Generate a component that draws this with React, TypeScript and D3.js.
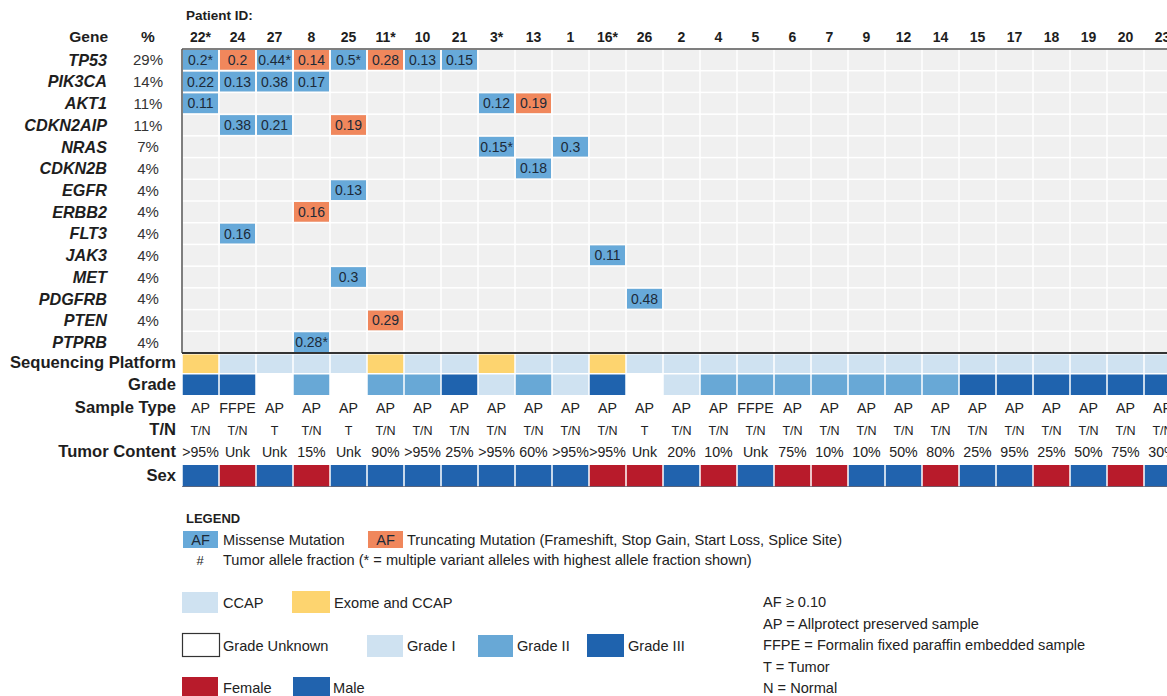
import React from "react";
import * as d3 from "d3";

const patients = ["22*","24","27","8","25","11*","10","21","3*","13","1","16*","26","2","4","5","6","7","9","12","14","15","17","18","19","20","23"];
const genes = ["TP53","PIK3CA","AKT1","CDKN2AIP","NRAS","CDKN2B","EGFR","ERBB2","FLT3","JAK3","MET","PDGFRB","PTEN","PTPRB"];
const genePct = ["29%","14%","11%","11%","7%","4%","4%","4%","4%","4%","4%","4%","4%","4%"];

// [gene, patient, allele fraction label, type] M = missense, T = truncating
const mutations: [string, string, string, string][] = [
  ["TP53","22*","0.2*","M"],["TP53","24","0.2","T"],["TP53","27","0.44*","M"],["TP53","8","0.14","T"],
  ["TP53","25","0.5*","M"],["TP53","11*","0.28","T"],["TP53","10","0.13","M"],["TP53","21","0.15","M"],
  ["PIK3CA","22*","0.22","M"],["PIK3CA","24","0.13","M"],["PIK3CA","27","0.38","M"],["PIK3CA","8","0.17","M"],
  ["AKT1","22*","0.11","M"],["AKT1","3*","0.12","M"],["AKT1","13","0.19","T"],
  ["CDKN2AIP","24","0.38","M"],["CDKN2AIP","27","0.21","M"],["CDKN2AIP","25","0.19","T"],
  ["NRAS","3*","0.15*","M"],["NRAS","1","0.3","M"],
  ["CDKN2B","13","0.18","M"],
  ["EGFR","25","0.13","M"],
  ["ERBB2","8","0.16","T"],
  ["FLT3","24","0.16","M"],
  ["JAK3","16*","0.11","M"],
  ["MET","25","0.3","M"],
  ["PDGFRB","26","0.48","M"],
  ["PTEN","11*","0.29","T"],
  ["PTPRB","8","0.28*","M"],
];

const platform = ["E","C","C","C","C","E","C","C","E","C","C","E","C","C","C","C","C","C","C","C","C","C","C","C","C","C","C"];
const grade = [3,3,0,2,0,2,2,3,1,2,1,3,0,1,2,2,2,2,2,2,2,3,3,3,3,3,3];
const sampleType = ["AP","FFPE","AP","AP","AP","AP","AP","AP","AP","AP","AP","AP","AP","AP","AP","FFPE","AP","AP","AP","AP","AP","AP","AP","AP","AP","AP","AP"];
const tumorNormal = ["T/N","T/N","T","T/N","T","T/N","T/N","T/N","T/N","T/N","T/N","T/N","T","T/N","T/N","T/N","T/N","T/N","T/N","T/N","T/N","T/N","T/N","T/N","T/N","T/N","T/N"];
const tumorContent = [">95%","Unk","Unk","15%","Unk","90%",">95%","25%",">95%","60%",">95%",">95%","Unk","20%","10%","Unk","75%","10%","10%","50%","80%","25%","95%","25%","50%","75%","30%"];
const sex = ["M","F","M","F","M","M","M","M","M","M","M","F","F","M","F","M","F","F","M","M","F","M","M","F","M","F","M"];
const annLabels = ["Sequencing Platform", "Grade", "Sample Type", "T/N", "Tumor Content", "Sex"];
const notes = ["AF \u2265 0.10", "AP = Allprotect preserved sample", "FFPE = Formalin fixed paraffin embedded sample", "T = Tumor", "N = Normal"];

const C = {
  missense: "#67a9d9",
  trunc: "#f0875c",
  empty: "#f0f0f0",
  ccap: "#cfe2f1",
  exome: "#fdd46f",
  g1: "#cfe2f1",
  g2: "#68a8d6",
  g3: "#1f63ae",
  female: "#b81b2b",
  male: "#2163ae",
  text: "#1e1e1e",
};
const FONT = "'Liberation Sans', Arial, Helvetica, sans-serif";

export default function App() {
  const W = 1167, H = 696;
  const x0 = 182, cw = 37;
  const x = d3.scaleBand<string>().domain(patients).range([x0, x0 + cw * patients.length]);
  const y = d3.scaleBand<string>().domain(genes).range([49, 353]);
  const bw = x.bandwidth();
  const bh = y.bandwidth();

  const gradeColor = (g: number) => (g === 1 ? C.g1 : g === 2 ? C.g2 : g === 3 ? C.g3 : "#ffffff");
  const LF = 14.6;
  const annY = [368, 390, 413, 435, 457, 481];

  return (
    <svg width={W} height={H} style={{ position: "absolute", left: 0, top: 0, background: "#fff" }} fontFamily={FONT}>
      <rect x={0} y={0} width={W} height={H} fill="#fff" />
      {/* header */}
      <text x={186} y={20} fontSize={13.5} fontWeight="bold" fill={C.text}>Patient ID:</text>
      <text x={108} y={42} fontSize={15.5} fontWeight="bold" textAnchor="end" fill={C.text}>Gene</text>
      <text x={148} y={42} fontSize={15.5} fontWeight="bold" textAnchor="middle" fill={C.text}>%</text>
      {patients.map((p) => (
        <text key={"pl" + p} x={x(p)! + bw / 2} y={42} fontSize={14} fontWeight="bold" textAnchor="middle" fill={C.text}>{p}</text>
      ))}

      {/* gene labels */}
      {genes.map((g, i) => (
        <g key={"gl" + g}>
          <text x={107} y={y(g)! + bh / 2 + 5.8} fontSize={16.2} fontWeight="bold" fontStyle="italic" textAnchor="end" fill={C.text}>{g}</text>
          <text x={148} y={y(g)! + bh / 2 + 5.5} fontSize={15} textAnchor="middle" fill="#333">{genePct[i]}</text>
        </g>
      ))}

      {/* empty grid */}
      {genes.map((g) =>
        patients.map((p) => (
          <rect key={"e" + g + p} x={x(p)! + 0.75} y={y(g)! + 0.75} width={bw - 1.5} height={bh - 1.5} fill={C.empty} />
        ))
      )}

      {/* mutations */}
      {mutations.map(([g, p, af, t]) => (
        <g key={"m" + g + p}>
          <rect x={x(p)! + 1} y={y(g)! + 1} width={bw - 2} height={bh - 2} fill={t === "M" ? C.missense : C.trunc} />
          <text x={x(p)! + bw / 2} y={y(g)! + bh / 2 + 5} fontSize={14} textAnchor="middle" fill="#1c2a38">{af}</text>
        </g>
      ))}

      {/* borders */}
      <line x1={x0} x2={W} y1={49} y2={49} stroke="#555" strokeWidth={1.5} />
      <line x1={x0} x2={x0} y1={49} y2={353} stroke="#555" strokeWidth={1.5} />
      <line x1={x0} x2={W} y1={353} y2={353} stroke="#333" strokeWidth={2} />

      {/* annotation labels */}
      {annLabels.map((l, i) => (
        <text key={"al" + l} x={176} y={annY[i]} fontSize={16.6} fontWeight="bold" textAnchor="end" fill={C.text}>{l}</text>
      ))}

      {/* sequencing platform */}
      {patients.map((p, i) => (
        <rect key={"sp" + p} x={x(p)! + 0.75} y={354.5} width={bw - 1.5} height={18.5} fill={platform[i] === "E" ? C.exome : C.ccap} />
      ))}
      {/* grade */}
      {patients.map((p, i) => (
        <rect key={"gr" + p} x={x(p)! + 0.75} y={374.5} width={bw - 1.5} height={20.5} fill={gradeColor(grade[i])} />
      ))}
      {/* text rows */}
      {patients.map((p, i) => (
        <g key={"tx" + p}>
          <text x={x(p)! + bw / 2} y={413} fontSize={14.2} textAnchor="middle" fill="#222">{sampleType[i]}</text>
          <text x={x(p)! + bw / 2} y={434.5} fontSize={12.5} textAnchor="middle" fill="#222">{tumorNormal[i]}</text>
          <text x={x(p)! + bw / 2} y={457} fontSize={14.2} textAnchor="middle" fill="#222">{tumorContent[i]}</text>
        </g>
      ))}
      {/* sex */}
      {patients.map((p, i) => (
        <rect key={"sx" + p} x={x(p)! + 0.75} y={465} width={bw - 1.5} height={21.5} fill={sex[i] === "F" ? C.female : C.male} />
      ))}
      <line x1={x0} x2={W} y1={486.5} y2={486.5} stroke="#334" strokeWidth={1} opacity={0.6} />

      {/* legend */}
      <text x={186} y={523} fontSize={13} fontWeight="bold" fill={C.text}>LEGEND</text>
      <rect x={183} y={531} width={35} height={17} fill={C.missense} />
      <text x={200.5} y={544.5} fontSize={LF} textAnchor="middle" fill="#1c2a38">AF</text>
      <text x={223} y={545} fontSize={LF} fill="#222">Missense Mutation</text>
      <rect x={368} y={531} width={35} height={17} fill={C.trunc} />
      <text x={385.5} y={544.5} fontSize={LF} textAnchor="middle" fill="#1c2a38">AF</text>
      <text x={407} y={545} fontSize={LF} fill="#222">Truncating Mutation (Frameshift, Stop Gain, Start Loss, Splice Site)</text>
      <text x={200} y={565} fontSize={13} textAnchor="middle" fill="#222">#</text>
      <text x={223} y={565} fontSize={LF} fill="#222">Tumor allele fraction (* = multiple variant alleles with highest allele fraction shown)</text>

      <rect x={182} y={592} width={36} height={21} fill={C.ccap} />
      <text x={223} y={608} fontSize={LF} fill="#222">CCAP</text>
      <rect x={292} y={591} width={38} height={22} fill={C.exome} />
      <text x={334} y={608} fontSize={LF} fill="#222">Exome and CCAP</text>

      <rect x={182.5} y={633.5} width={37} height={23} fill="#fff" stroke="#333" strokeWidth={1.2} />
      <text x={223} y={651} fontSize={LF} fill="#222">Grade Unknown</text>
      <rect x={367} y={635} width={36} height={22} fill={C.g1} />
      <text x={407} y={651} fontSize={LF} fill="#222">Grade I</text>
      <rect x={478} y={635} width={35} height={22} fill={C.g2} />
      <text x={517} y={651} fontSize={LF} fill="#222">Grade II</text>
      <rect x={587} y={634} width={37} height={23} fill={C.g3} />
      <text x={628} y={651} fontSize={LF} fill="#222">Grade III</text>

      <rect x={182} y={677} width={36} height={22} fill={C.female} />
      <text x={223} y={693} fontSize={LF} fill="#222">Female</text>
      <rect x={293} y={677} width={37} height={22} fill={C.male} />
      <text x={333} y={693} fontSize={LF} fill="#222">Male</text>

      {notes.map((t, i) => (
        <text key={"rn" + i} x={763} y={607 + i * 21.5} fontSize={LF} fill="#222">{t}</text>
      ))}
    </svg>
  );
}
